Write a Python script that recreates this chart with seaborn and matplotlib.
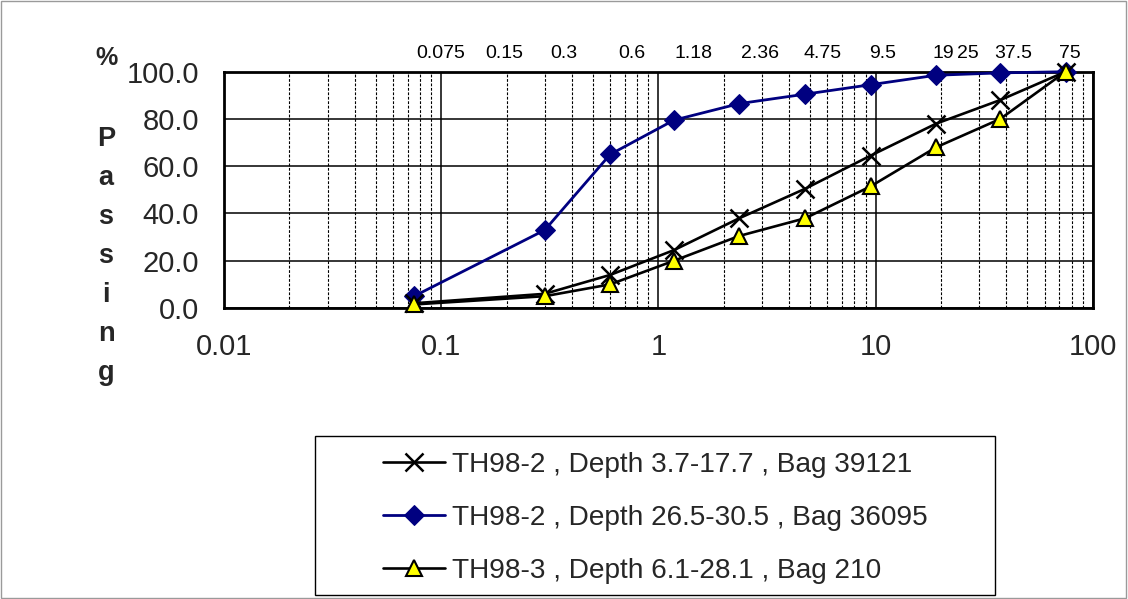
import numpy as np
import pandas as pd
import matplotlib
matplotlib.use("Agg")
import matplotlib.pyplot as plt
from matplotlib.patches import Rectangle
from matplotlib.ticker import NullFormatter, LogLocator
import seaborn as sns

# ---------------- data ----------------
sizes = [0.075, 0.3, 0.6, 1.18, 2.36, 4.75, 9.5, 19, 37.5, 75]
pass_th98_2_a = [2.0, 6.0, 14.0, 24.5, 38.0, 50.5, 64.5, 78.0, 88.0, 100.0]
pass_th98_2_b = [5.0, 33.0, 65.0, 79.5, 86.5, 90.5, 94.5, 98.5, 99.5, 100.0]
pass_th98_3 = [1.5, 5.0, 10.0, 20.0, 30.5, 38.0, 51.5, 68.0, 80.0, 100.0]
series_labels = ["TH98-2 , Depth 3.7-17.7 , Bag 39121",
                 "TH98-2 , Depth 26.5-30.5 , Bag 36095",
                 "TH98-3 , Depth 6.1-28.1 , Bag 210"]
sieve_sizes = [0.075, 0.15, 0.3, 0.6, 1.18, 2.36, 4.75, 9.5, 19, 25, 37.5, 75]
sieve_labels = ["0.075", "0.15", "0.3", "0.6", "1.18", "2.36", "4.75", "9.5",
                "19", "25", "37.5", "75"]
x_ticks = [0.01, 0.1, 1, 10, 100]
x_ticklabels = ["0.01", "0.1", "1", "10", "100"]
y_ticks = [0, 20, 40, 60, 80, 100]

# label nudges (pixels) for the sieve-size text row
sieve_label_dx = [27, 25, 19, 22, 20, 21, 17, 12, 7, 6, 13, 4]

# ---------------- style ----------------
sns.set_style("white")
plt.rcParams["font.family"] = ["Liberation Sans", "DejaVu Sans"]

W, H = 1128, 599
fig = plt.figure(figsize=(W / 100, H / 100), dpi=100)
def fx(px): return px / W
def fy(py): return 1 - py / H

ax_l, ax_r, ax_t, ax_b = 224, 1092.7, 71.7, 308
ax = fig.add_axes([fx(ax_l), fy(ax_b), fx(ax_r - ax_l), (ax_b - ax_t) / H])

df = pd.DataFrame({"size": sizes, "a": pass_th98_2_a, "b": pass_th98_2_b, "c": pass_th98_3})

sns.lineplot(data=df, x="size", y="a", ax=ax, color="black", lw=1.9,
             marker="x", markersize=13, markeredgewidth=1.8, markeredgecolor="black",
             label=series_labels[0], clip_on=False, zorder=5)
sns.lineplot(data=df, x="size", y="b", ax=ax, color="#000080", lw=2.0,
             marker="D", markersize=10.5, markerfacecolor="#000080", markeredgecolor="#000080",
             label=series_labels[1], clip_on=False, zorder=4)
sns.lineplot(data=df, x="size", y="c", ax=ax, color="black", lw=1.9,
             marker="^", markersize=12, markerfacecolor="#ffff00", markeredgecolor="black",
             markeredgewidth=1.5, label=series_labels[2], clip_on=False, zorder=6)

ax.set_xscale("log")
ax.set_xlim(0.01, 100)
ax.set_ylim(0, 100)
ax.set_xticks(x_ticks)
ax.set_xticklabels(x_ticklabels)
ax.xaxis.set_minor_locator(LogLocator(base=10, subs=np.arange(2, 10), numticks=20))
ax.xaxis.set_minor_formatter(NullFormatter())
ax.set_yticks(y_ticks)
ax.set_yticklabels([f"{v:.1f}" for v in y_ticks])
ax.tick_params(axis="both", which="both", length=0)
ax.tick_params(axis="y", pad=18, labelsize=21)
ax.tick_params(axis="x", pad=18, labelsize=21)
ax.set_xlabel("")
ax.set_ylabel("")

ax.set_axisbelow(True)
ax.grid(which="major", axis="both", color="black", lw=1.1, ls="-")
ax.grid(which="minor", axis="x", color="black", lw=0.8, ls=(0, (2.5, 1.5)))
for s in ax.spines.values():
    s.set_visible(True)
    s.set_color("black")
    s.set_linewidth(2.0)

# sieve size labels above plot
for s, lab, dx in zip(sieve_sizes, sieve_labels, sieve_label_dx):
    ax.annotate(lab, xy=(s, 1.0), xycoords=("data", "axes fraction"),
                xytext=(dx * 0.72, 18.5 * 0.72), textcoords="offset points",
                ha="center", va="center", fontsize=14, color="black")

# y-axis title: "%" and vertical "Passing"
fig.text(fx(107), fy(58), "%", ha="center", va="center", fontsize=18, fontweight="bold")
word = "Passing"
base0, base1 = 146, 380
for i, ch in enumerate(word):
    yb = base0 + (base1 - base0) * i / (len(word) - 1)
    fig.text(fx(106), fy(yb), ch, ha="center", va="baseline", fontsize=19.5, fontweight="bold")

# legend
if ax.get_legend():
    ax.get_legend().remove()
handles, labels = ax.get_legend_handles_labels()
leg = fig.legend(handles, labels, loc="center left", bbox_to_anchor=(fx(383), fy(518)),
                 frameon=False, fontsize=20.2, borderpad=0, borderaxespad=0,
                 handlelength=2.2, handletextpad=0.25, labelspacing=0.97)
fig.patches.append(Rectangle((fx(315), fy(595)), fx(995 - 315), (595 - 436) / H,
                             transform=fig.transFigure, fill=False, edgecolor="black",
                             lw=1.0, zorder=1))
# outer frame
fig.patches.append(Rectangle((fx(1), fy(598)), fx(1125), 597 / H, transform=fig.transFigure,
                             fill=False, edgecolor="#9a9a9a", lw=1.0))

fig.savefig("out.png", dpi=100)
